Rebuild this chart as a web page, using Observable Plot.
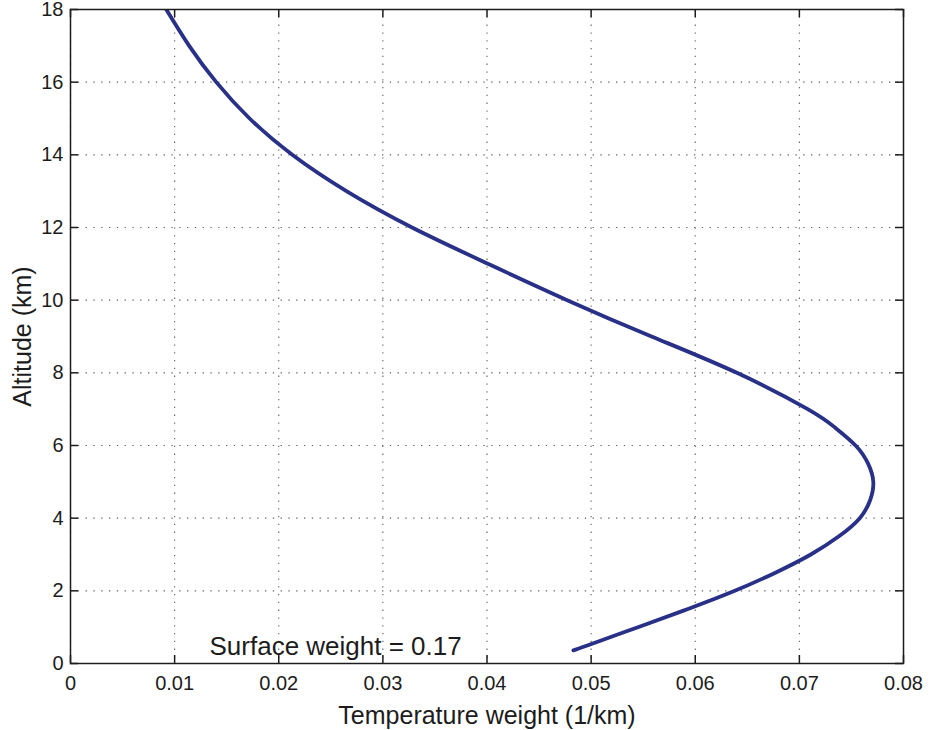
<!DOCTYPE html>
<html>
<head>
<meta charset="utf-8">
<script src="https://cdn.jsdelivr.net/npm/d3@7"></script>
<script src="https://cdn.jsdelivr.net/npm/@observablehq/plot@0.6"></script>
<style>
  html, body { margin: 0; padding: 0; background: #fff; }
  #chart { width: 930px; height: 730px; }
</style>
</head>
<body>
<div id="chart"></div>
<script>
// ---- data ----
const altitude = [18, 17, 16, 15, 14, 13, 12, 11, 10, 9, 8, 7, 6.5, 6, 5.5, 5, 4.5, 4, 3.5, 3, 2.5, 2, 1.5, 1, 0.5, 0.36];
const weight   = [0.0092, 0.0114, 0.0140, 0.0172, 0.0213, 0.0265, 0.0328, 0.0401, 0.0477, 0.0558, 0.0640, 0.0708, 0.0734, 0.0754, 0.0766, 0.0771, 0.0768, 0.0758, 0.0738, 0.0711, 0.0677, 0.0638, 0.0593, 0.0545, 0.0497, 0.0483];
const xTicks = [0, 0.01, 0.02, 0.03, 0.04, 0.05, 0.06, 0.07, 0.08];
const xTickLabels = ["0", "0.01", "0.02", "0.03", "0.04", "0.05", "0.06", "0.07", "0.08"];
const yTicks = [0, 2, 4, 6, 8, 10, 12, 14, 16, 18];
const annotationText = ["Surface weight = 0.17"];
const annotationX = [0.01335];
const annotationY = [0.47];

// ---- build ----
const curve = altitude.map((a, i) => ({alt: a, w: weight[i]}));
const annot = annotationText.map((t, i) => ({t, x: annotationX[i], y: annotationY[i]}));

const W = 930, H = 730;
const mL = 70, mR = 27, mT = 9, mB = 67;
const plotW = W - mL - mR, plotH = H - mT - mB;
const tickLen = 8;
const ink = "#1c1c1c";

const chart = Plot.plot({
  width: W,
  height: H,
  marginLeft: mL,
  marginRight: mR,
  marginTop: mT,
  marginBottom: mB,
  style: {fontFamily: "'Liberation Sans', Arial, Helvetica, sans-serif", fontSize: "20px", color: ink, background: "#fff", overflow: "visible"},
  x: {domain: [0, 0.08]},
  y: {domain: [0, 18]},
  marks: [
    Plot.gridX(xTicks, {stroke: "#444", strokeOpacity: 0.85, strokeWidth: 1.1, strokeDasharray: "1.3,6.5"}),
    Plot.gridY(yTicks, {stroke: "#444", strokeOpacity: 0.85, strokeWidth: 1.1, strokeDasharray: "1.3,6.5"}),
    // inward ticks (MATLAB style)
    Plot.tickX(xTicks, {x: d => d, insetTop: plotH - tickLen, stroke: ink, strokeWidth: 1.5}),
    Plot.tickX(xTicks, {x: d => d, insetBottom: plotH - tickLen, stroke: ink, strokeWidth: 1.5}),
    Plot.tickY(yTicks, {y: d => d, insetRight: plotW - tickLen, stroke: ink, strokeWidth: 1.5}),
    Plot.tickY(yTicks, {y: d => d, insetLeft: plotW - tickLen, stroke: ink, strokeWidth: 1.5}),
    Plot.axisX({
      ticks: xTicks, tickSize: 0, tickPadding: 12, fontSize: 20,
      tickFormat: d => xTickLabels[xTicks.indexOf(d)] ?? String(d),
      label: "Temperature weight (1/km)", labelAnchor: "center", labelArrow: "none", labelOffset: 60
    }),
    Plot.axisY({
      ticks: yTicks, tickSize: 0, tickPadding: 7, fontSize: 20,
      label: "Altitude (km)", labelAnchor: "center", labelArrow: "none", labelOffset: 57
    }),
    Plot.line(curve, {x: "w", y: "alt", curve: "natural", stroke: "#283087", strokeWidth: 3.8, clip: true}),
    Plot.text(annot, {x: "x", y: "y", text: "t", textAnchor: "start", fontSize: 26, fill: ink}),
    Plot.frame({stroke: ink, strokeWidth: 1.5})
  ]
});
// enforce font sizes
chart.querySelectorAll("g[aria-label='x-axis tick label'] text, g[aria-label='y-axis tick label'] text")
  .forEach(t => { t.style.fontSize = "20px"; });
chart.querySelectorAll("g[aria-label='x-axis label'] text, g[aria-label='y-axis label'] text")
  .forEach(t => { t.style.fontSize = "25px"; });
document.getElementById("chart").appendChild(chart);
</script>
</body>
</html>
